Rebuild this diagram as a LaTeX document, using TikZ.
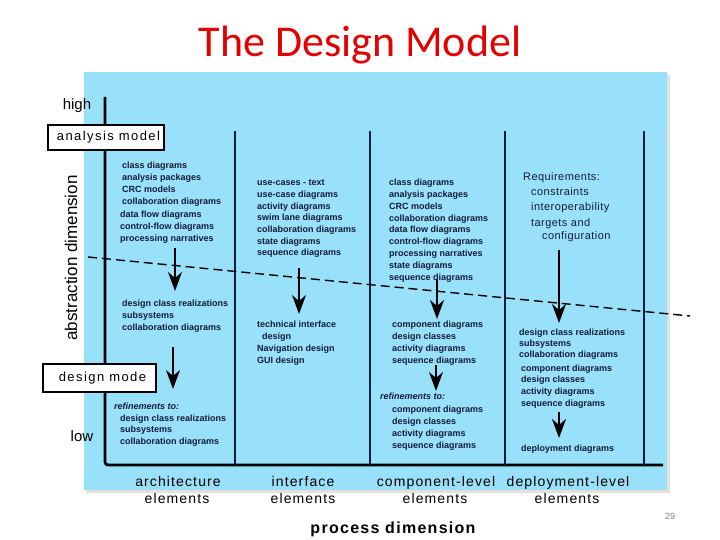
\documentclass[tikz,border=0pt]{standalone}
\usepackage{fontspec}
\setmainfont{Liberation Sans}
\newfontfamily\titlefont{Carlito}
\usetikzlibrary{arrows.meta}
\definecolor{skyb}{RGB}{153,224,250}
\definecolor{ink}{RGB}{20,28,55}
\definecolor{titlered}{RGB}{226,0,0}
\definecolor{shadowc}{RGB}{226,226,218}
\begin{document}
\begin{tikzpicture}[x=1pt,y=-1pt,
  lbl/.style={font=\fontsize{9}{10}\selectfont\bfseries, text=ink, anchor=base west, inner sep=0pt},
  reflbl/.style={lbl, font=\fontsize{9}{10}\selectfont\bfseries\itshape},
  reqlbl/.style={font=\fontsize{11}{12}\selectfont\addfontfeatures{LetterSpace=4}, text=ink, anchor=base west, inner sep=0pt},
  elbl/.style={font=\fontsize{14}{16}\selectfont\addfontfeatures{LetterSpace=8}, text=black, anchor=base, inner sep=0pt},
  boxlbl/.style={draw=black, line width=1.2pt, fill=white, inner sep=0pt,
     font=\fontsize{13}{15}\selectfont\addfontfeatures{LetterSpace=11}, text=black},
  axislbl/.style={font=\fontsize{15}{17}\selectfont, text=black, inner sep=0pt},
  sepline/.style={line width=1.5pt, draw=ink},
  flow/.style={line width=1.4pt, draw=black, -{Stealth[length=19pt, width=14pt, inset=6pt]}},
  dashline/.style={line width=1.4pt, draw=black, dash pattern=on 9pt off 5pt}
]
\useasboundingbox (0,0) rectangle (720,540);

% title
\node[font=\titlefont\fontsize{44}{50}\selectfont, text=titlered, inner sep=0pt] (title) at (360,45) {The Design Model};

% panel
\fill[shadowc] (86,75) rectangle (670,493);
\fill[skyb] (84,72) rectangle (667,490);

% axes and separators
\draw[line width=2.8pt, rounded corners=3pt, draw=black] (105,97) -- (105,465) -- (663,465);
\foreach \x in {235,370,505,644} \draw[sepline] (\x,131) -- (\x,465);

% dashed line
\coordinate (dA) at (88,257);
\coordinate (dB) at (690,316);
\draw[dashline] (dA) -- (dB);

% arrows
\coordinate (a1s) at (175,248); \coordinate (a1e) at (175,291);
\coordinate (a2s) at (173,347); \coordinate (a2e) at (173,389);
\coordinate (a3s) at (299,268); \coordinate (a3e) at (299,314);
\coordinate (a4s) at (437,279); \coordinate (a4e) at (437,319);
\coordinate (a5s) at (436,365); \coordinate (a5e) at (436,391);
\coordinate (a6s) at (559,250); \coordinate (a6e) at (559,323);
\coordinate (a7s) at (559,412); \coordinate (a7e) at (559,438);
\foreach \i in {1,...,7} \draw[flow] (a\i s) -- (a\i e);

% left side labels
\node[boxlbl, minimum width=116pt, minimum height=25pt] (amodel) at (106,137.5) {\hspace{5pt}analysis model};
\node[boxlbl, minimum width=113pt, minimum height=28pt] (dmodel) at (99.5,378) {\hspace{6pt}design mode};
\node[axislbl, anchor=base] (high) at (77,110) {high};
\node[axislbl, anchor=base] (low) at (82,441) {low};
\node[font=\fontsize{17}{19}\selectfont, rotate=90, inner sep=0pt] (absdim) at (71,258) {abstraction dimension};

% column 1
\foreach \t [count=\i] in {class diagrams, analysis packages, CRC models, collaboration diagrams}
  \node[lbl] (c1a\i) at (122,{169+11.7*(\i-1)}) {\t};
\foreach \t [count=\i] in {data flow diagrams, control-flow diagrams, processing narratives}
  \node[lbl] (c1b\i) at (120,{218+11.6*(\i-1)}) {\t};
\foreach \t [count=\i] in {design class realizations, subsystems, collaboration diagrams}
  \node[lbl] (c1c\i) at (122,{306+12*(\i-1)}) {\t};
\node[reflbl] (c1r) at (114,409) {refinements to:};
\foreach \t [count=\i] in {design class realizations, subsystems, collaboration diagrams}
  \node[lbl] (c1d\i) at (120,{421+11.6*(\i-1)}) {\t};

% column 2
\foreach \t [count=\i] in {use-cases - text, use-case diagrams, activity diagrams, swim lane diagrams, collaboration diagrams, state diagrams, sequence diagrams}
  \node[lbl] (c2a\i) at (257,{186+11.66*(\i-1)}) {\t};
\node[lbl] (c2b1) at (257,327) {technical interface};
\node[lbl] (c2b2) at (262,339) {design};
\node[lbl] (c2b3) at (257,351) {Navigation design};
\node[lbl] (c2b4) at (257,363) {GUI design};

% column 3
\foreach \t [count=\i] in {class diagrams, analysis packages, CRC models, collaboration diagrams, data flow diagrams, control-flow diagrams, processing narratives, state diagrams, sequence diagrams}
  \node[lbl] (c3a\i) at (389,{186+11.75*(\i-1)}) {\t};
\foreach \t [count=\i] in {component diagrams, design classes, activity diagrams, sequence diagrams}
  \node[lbl] (c3b\i) at (392,{327+12*(\i-1)}) {\t};
\node[reflbl] (c3r) at (380,399) {refinements to:};
\foreach \t [count=\i] in {component diagrams, design classes, activity diagrams, sequence diagrams}
  \node[lbl] (c3c\i) at (392,{412+12*(\i-1)}) {\t};

% column 4
\node[reqlbl] (c4r1) at (523,181) {Requirements:};
\node[reqlbl] (c4r2) at (531,196) {constraints};
\node[reqlbl] (c4r3) at (531,211) {interoperability};
\node[reqlbl] (c4r4) at (531,226) {targets and};
\node[reqlbl] (c4r5) at (542,240) {configuration};
\foreach \t [count=\i] in {design class realizations, subsystems, collaboration diagrams}
  \node[lbl] (c4a\i) at (519,{335+11*(\i-1)}) {\t};
\foreach \t [count=\i] in {component diagrams, design classes, activity diagrams, sequence diagrams}
  \node[lbl] (c4b\i) at (521,{371+11.7*(\i-1)}) {\t};
\node[lbl] (c4c) at (521,451) {deployment diagrams};

% bottom labels
\node[elbl] (e1a) at (178,486) {architecture};
\node[elbl] (e1b) at (177,503) {elements};
\node[elbl] (e2a) at (303,486) {interface};
\node[elbl] (e2b) at (303,503) {elements};
\node[elbl] (e3a) at (436,486) {component-level};
\node[elbl] (e3b) at (435,503) {elements};
\node[elbl] (e4a) at (568,486) {deployment-level};
\node[elbl] (e4b) at (567,503) {elements};
\node[font=\fontsize{16}{18}\selectfont\bfseries\addfontfeatures{LetterSpace=8}, anchor=base, inner sep=0pt] (procdim) at (393,533) {process dimension};
\node[font=\fontsize{9}{10}\selectfont, text=gray, anchor=base, inner sep=0pt] (pnum) at (670,519) {29};
\end{tikzpicture}
\end{document}
